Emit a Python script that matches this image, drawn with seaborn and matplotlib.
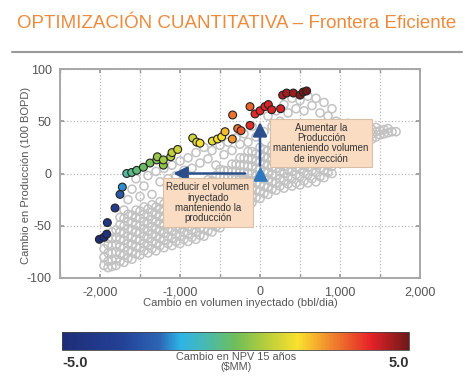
import matplotlib
matplotlib.use("Agg")
import matplotlib.pyplot as plt
import seaborn as sns
import pandas as pd
from matplotlib.colors import LinearSegmentedColormap, Normalize
from matplotlib.cm import ScalarMappable
from matplotlib.lines import Line2D
from matplotlib.ticker import MultipleLocator, FuncFormatter

# frontier points (colored by NPV change)
front_x = [-2008, -1950, -1916, -1908, -1812, -1750, -1721, -1666, -1604, -1541,
           -1458, -1375, -1291, -1283, -1208, -1208, -1116, -1100, -1029, -841,
           -791, -750, -596, -531, -479, -437, -346, -342, -279, -237,
           -125, -125, -62, 0, 62, 104, 146, 258, 283, 333,
           417, 500, 541, 583]
front_y = [-63, -61, -58, -47, -33, -20, -13, 0, 1, 3,
           6, 10, 13, 16, 8, 13, 16, 20, 23, 34,
           30, 29, 31, 33, 35, 40, 33, 56, 43, 41,
           46, 64, 57, 60, 64, 66, 61, 62, 75, 77,
           77, 75, 78, 79]
front_npv = [-5.0, -4.8, -4.6, -4.2, -3.6, -2.6, -1.9, -0.7, -0.5, -0.3,
             -0.1, 0.1, 0.3, 0.5, 0.4, 0.6, 0.8, 1.0, 1.2, 1.2,
             1.5, 1.7, 1.6, 1.7, 1.8, 2.2, 2.6, 3.0, 3.0, 3.3,
             3.8, 3.2, 3.8, 3.9, 3.9, 4.0, 4.0, 4.0, 4.4, 4.5,
             4.6, 4.8, 4.9, 5.0]

# gray cloud of evaluated scenarios, read column by column (x: list of y)
gray_cols = [
    (-1950, [-88, -80, -72]),
    (-1900, [-90, -84, -76, -68, -62]),
    (-1850, [-89, -83, -76, -69, -62, -56]),
    (-1800, [-88, -82, -75, -68, -61, -54]),
    (-1750, [-84, -77, -70, -63, -56, -49, -42]),
    (-1700, [-85, -78, -71, -64, -57, -50, -43, -35]),
    (-1650, [-81, -74, -67, -60, -53, -46, -39, -25]),
    (-1600, [-82, -75, -68, -61, -54, -47, -40, -15]),
    (-1550, [-77, -70, -63, -56, -49, -42, -35, -5]),
    (-1500, [-78, -71, -64, -57, -50, -43, -36, -22]),
    (-1450, [-74, -67, -60, -53, -46, -39, -32, -12]),
    (-1400, [-76, -69, -62, -55, -48, -41, -34, -2]),
    (-1350, [-72, -65, -58, -51, -44, -37, -30, -20]),
    (-1300, [-74, -67, -60, -53, -46, -39, -32, 2]),
    (-1250, [-69, -62, -55, -48, -41, -34, -27, -8]),
    (-1200, [-71, -64, -57, -50, -43, -36, -29, 5]),
    (-1150, [-67, -60, -53, -46, -39, -32, -25, -5]),
    (-1100, [-69, -62, -55, -48, -41, -34, -27, 8]),
    (-1050, [-65, -58, -51, -44, -37, -30, -23, -2]),
    (-1000, [-67, -60, -53, -46, -39, -32, -25, -18, 12]),
    (-950, [-63, -56, -49, -42, -35, -28, -21, -14, 3]),
    (-900, [-65, -58, -51, -44, -37, -30, -23, -16, 15]),
    (-850, [-61, -54, -47, -40, -33, -26, -19, -12, 5]),
    (-800, [-63, -56, -49, -42, -35, -28, -21, -14, 20]),
    (-750, [-59, -52, -45, -38, -31, -24, -17, -10, 10]),
    (-700, [-60, -53, -46, -39, -32, -25, -18, -11, 25]),
    (-650, [-55, -48, -41, -34, -27, -20, -13, -6, 14]),
    (-600, [-56, -49, -42, -35, -28, -21, -14, -7, 22]),
    (-550, [-51, -44, -37, -30, -23, -16, -9, -2, 8]),
    (-500, [-52, -45, -38, -31, -24, -17, -10, -3, 4, 27]),
    (-450, [-46, -39, -32, -25, -18, -11, -4, 3, 18]),
    (-400, [-46, -39, -32, -25, -18, -11, -4, 3, 30]),
    (-350, [-40, -33, -26, -19, -12, -5, 2, 9, 22]),
    (-300, [-40, -33, -26, -19, -12, -5, 2, 9, 34]),
    (-250, [-34, -27, -20, -13, -6, 1, 8, 15, 28]),
    (-200, [-34, -27, -20, -13, -6, 1, 8, 15, 38]),
    (-150, [-28, -21, -14, -7, 0, 7, 14, 21, 30]),
    (-100, [-28, -21, -14, -7, 0, 7, 14, 21, 45]),
    (-50, [-23, -16, -9, -2, 5, 12, 19, 35]),
    (0, [-24, -17, -10, -3, 4, 11, 18, 25]),
    (50, [-19, -12, -5, 2, 9, 16, 23, 40]),
    (100, [-20, -13, -6, 1, 8, 15, 22, 55]),
    (150, [-15, -8, -1, 6, 13, 20, 27, 45]),
    (200, [-16, -9, -2, 5, 12, 19, 26, 60]),
    (250, [-12, -5, 2, 9, 16, 23, 30, 50]),
    (300, [-14, -7, 0, 7, 14, 21, 28, 66]),
    (350, [-10, -3, 4, 11, 18, 25, 32, 58]),
    (400, [-12, -5, 2, 9, 16, 23, 30, 72]),
    (450, [-9, -1, 6, 13, 20, 27, 34, 62]),
    (500, [-11, -3, 4, 11, 18, 25, 32, 70]),
    (550, [-7, 1, 8, 15, 22, 29, 36, 60]),
    (600, [-9, -1, 6, 13, 20, 27, 34, 74]),
    (650, [-5, 3, 10, 17, 24, 31, 38, 65]),
    (700, [-8, 1, 8, 15, 22, 29, 36, 72]),
    (750, [-3, 5, 12, 19, 26, 33, 40, 58]),
    (800, [-4, 3, 10, 17, 24, 31, 38, 68]),
    (850, [1, 8, 15, 22, 29, 36, 42, 55]),
    (900, [0, 7, 14, 21, 28, 35, 40, 62]),
    (950, [10, 17, 24, 31, 37, 41, 50]),
    (1000, [12, 19, 26, 33, 38, 42, 45]),
    (1050, [15, 22, 29, 35, 40, 43]),
    (1100, [18, 25, 31, 37, 41, 48]),
    (1150, [20, 27, 33, 38, 42]),
    (1200, [23, 29, 35, 40, 43, 46]),
    (1250, [26, 32, 37, 41, 44]),
    (1300, [28, 34, 39, 43]),
    (1350, [31, 36, 40, 44]),
    (1400, [33, 38, 42]),
    (1450, [35, 40, 44]),
    (1500, [37, 41]),
    (1550, [38, 42]),
    (1600, [39, 43]),
    (1650, [40]),
    (1700, [40]),
]

# colorbar anchors
cb_pos = [0.0, 0.17, 0.28, 0.34, 0.41, 0.50, 0.585, 0.68, 0.77, 0.89, 1.0]
cb_rgb = [(30, 45, 120), (35, 65, 150), (45, 100, 180), (45, 180, 230), (70, 185, 180),
          (110, 190, 90), (180, 205, 60), (250, 225, 45), (240, 140, 45), (230, 35, 40),
          (110, 25, 25)]
cmap = LinearSegmentedColormap.from_list(
    "npv", [(p, tuple(c / 255 for c in rgb)) for p, rgb in zip(cb_pos, cb_rgb)])

sns.set_theme(style="white")
plt.rcParams["font.family"] = ["Liberation Sans", "DejaVu Sans"]
plt.rcParams["axes.unicode_minus"] = False

W, H = 472, 377
fig = plt.figure(figsize=(W / 100, H / 100), dpi=100)
ax = fig.add_axes([60 / W, 1 - 278 / H, 360 / W, 209 / H])

gray = pd.DataFrame([(x, y) for x, ys in gray_cols for y in ys], columns=["x", "y"])
front = pd.DataFrame({"x": front_x, "y": front_y, "npv": front_npv})

sns.scatterplot(data=gray, x="x", y="y", ax=ax, s=34, facecolors="none",
                edgecolor="#c2c2c2", linewidth=1.1, zorder=2, legend=False)
sns.scatterplot(data=front, x="x", y="y", hue="npv", palette=cmap, hue_norm=(-5, 5),
                ax=ax, s=32, edgecolor="#222222", linewidth=0.8, zorder=4, legend=False)

# arrows and start marker
arrow = dict(arrowstyle="-|>,head_length=0.7,head_width=0.35", color="#2c4f8c", lw=1.8)
ax.annotate("", xy=(-1120, 0), xytext=(-150, 0), arrowprops=arrow, zorder=5)
ax.annotate("", xy=(0, 52), xytext=(0, 5), arrowprops=arrow, zorder=5)
ax.scatter([0], [0], marker="^", s=90, color="#2f78be", zorder=6)

box = dict(boxstyle="square,pad=0.35", facecolor="#fadcc2", edgecolor="#d8c0a8", lw=0.8)
ax.text(762, 29, "Aumentar la\nProducción\nmanteniendo volumen\nde inyección",
        ha="center", va="center", fontsize=7, color="#333333", linespacing=1.05,
        bbox=box, zorder=7)
ax.text(-650, -28, "Reducir el volumen\ninyectado\nmanteniendo la\nproducción",
        ha="center", va="center", fontsize=7, color="#333333", linespacing=1.05,
        bbox=dict(box, boxstyle="square,pad=0.4"), zorder=7)

ax.set_xlim(-2500, 2000)
ax.set_ylim(-100, 100)
ax.xaxis.set_major_locator(MultipleLocator(1000))
ax.xaxis.set_minor_locator(MultipleLocator(500))
ax.yaxis.set_major_locator(MultipleLocator(50))
ax.xaxis.set_major_formatter(FuncFormatter(lambda v, p: f"{int(v):,}"))
ax.grid(True, which="both", axis="x", linestyle=":", color="#b8b8b8", lw=0.9)
ax.grid(True, which="major", axis="y", linestyle=":", color="#b8b8b8", lw=0.9)
ax.set_axisbelow(True)
ax.tick_params(which="both", direction="in", length=3, color="#999999",
               labelsize=9, labelcolor="#555555", pad=6,
               bottom=True, left=True, top=True, right=True)
for s in ax.spines.values():
    s.set_color("#a8a8a8")
    s.set_linewidth(1.4)

ax.set_xlabel("Cambio en volumen inyectado (bbl/dia)", fontsize=8, color="#555555")
ax.set_ylabel("Cambio en Producción (100 BOPD)", fontsize=8, color="#555555")
ax.xaxis.set_label_coords(0.5, -0.095)
ax.yaxis.set_label_coords(-0.08, 0.49)

# title and rule
fig.text(17 / W, 1 - 28 / H, "OPTIMIZACIÓN CUANTITATIVA – Frontera Eficiente",
         fontsize=13.5, color="#ef8a3d", va="baseline", ha="left")
fig.add_artist(Line2D([12 / W, 462 / W], [1 - 52 / H] * 2, color="#9a9a9a", lw=1.5))

# colorbar
cax = fig.add_axes([62 / W, 1 - 350 / H, 347 / W, 18 / H])
cb = fig.colorbar(ScalarMappable(norm=Normalize(-5, 5), cmap=cmap), cax=cax,
                  orientation="horizontal")
cb.set_ticks([])
cb.outline.set_linewidth(0.6)
cb.outline.set_edgecolor("#444444")
fig.text(62 / W, 1 - 363 / H, "-5.0", fontsize=10.5, fontweight="bold",
         color="#333333", ha="left", va="center")
fig.text(409 / W, 1 - 363 / H, "5.0", fontsize=10.5, fontweight="bold",
         color="#333333", ha="right", va="center")
fig.text(236 / W, 1 - 362 / H, "Cambio en NPV 15 años\n($MM)", fontsize=7.8,
         color="#555555", ha="center", va="center", linespacing=1.1,
         bbox=dict(facecolor="white", edgecolor="none", pad=0.5), zorder=10)

fig.savefig("out.png", dpi=100)
